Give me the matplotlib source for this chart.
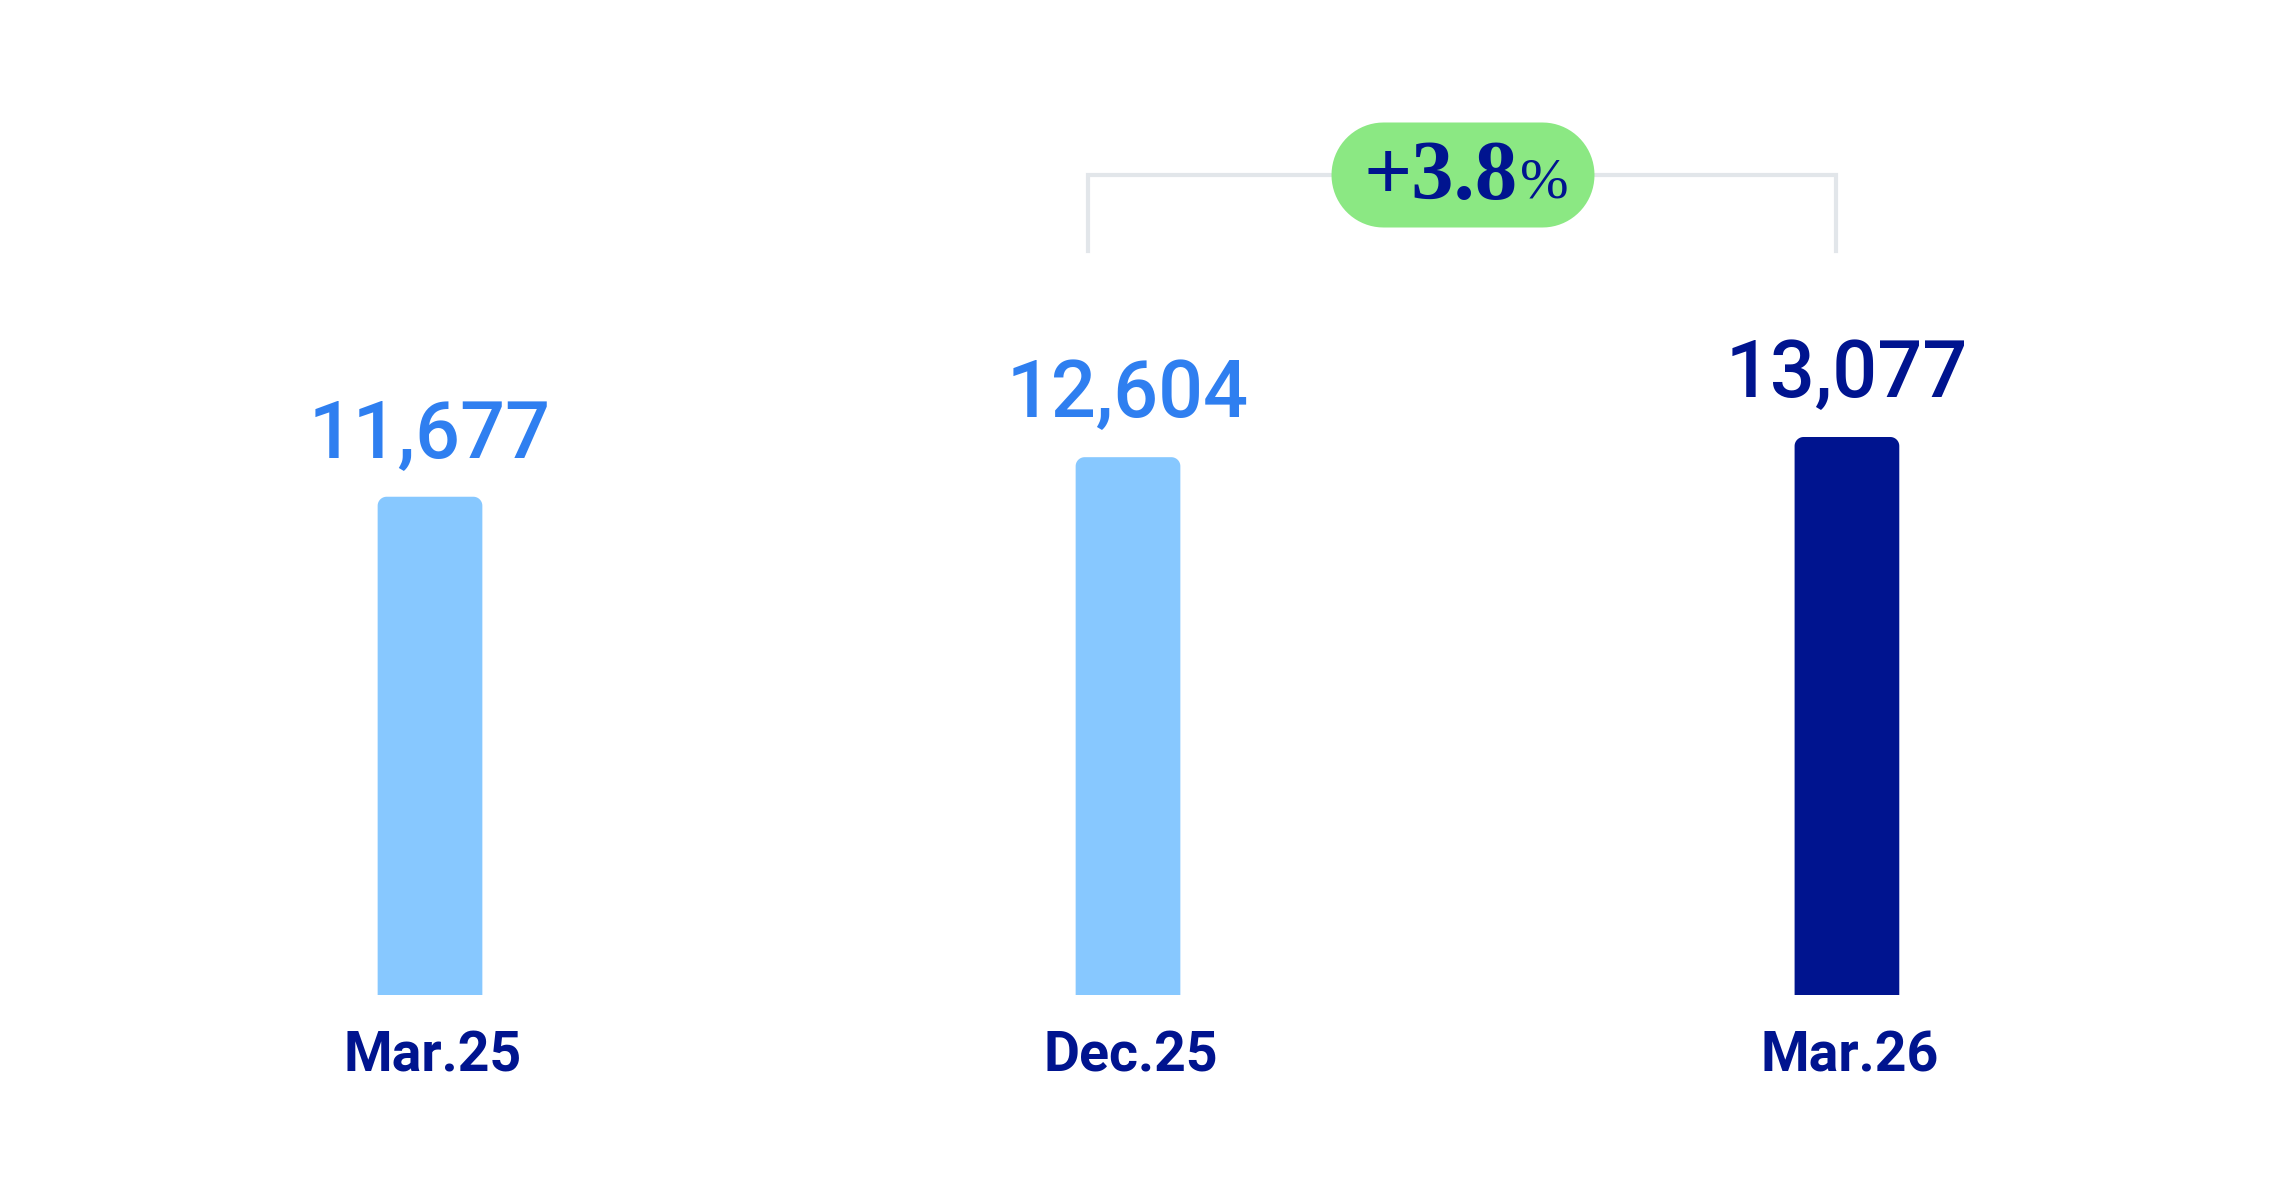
"""Bar chart: three period values with a growth badge between the last two."""
import matplotlib

matplotlib.use("Agg")
import matplotlib.pyplot as plt
import numpy as np
from matplotlib.patches import Polygon

periods = ["Mar.25", "Dec.25", "Mar.26"]
values = [11677, 12604, 13077]
value_labels = ["11,677", "12,604", "13,077"]

LIGHT, DARK = "#87c8ff", "#00148f"
LABEL_LIGHT = "#2f7ff0"
BADGE, BRACKET = "#8be883", "#e2e6ea"

bar_colors = [LIGHT, LIGHT, DARK]
text_colors = [LABEL_LIGHT, LABEL_LIGHT, DARK]

W, H, DPI = 2292, 1188, 100
fig = plt.figure(figsize=(W / DPI, H / DPI), dpi=DPI)
ax = fig.add_axes([0, 0, 1, 1])
ax.set_axis_off()

# layout: pixel anchors converted to data limits
x0_px, unit_px = 430, 698
base_px = 193
yscale = values[-1] / 558  # data per pixel
ax.set_xlim(-x0_px / unit_px, (W - x0_px) / unit_px)
ax.set_ylim(-base_px * yscale, (H - base_px) * yscale)


def rounded(x, y, w, h, rx, ry, bottom=True):
    """Polygon for a box with elliptical corners (top only if bottom=False)."""
    t = np.linspace(0, np.pi / 2, 20)
    corners = [(x + w - rx, y + h - ry, 0.0), (x + rx, y + h - ry, 0.5 * np.pi)]
    if bottom:
        corners += [(x + rx, y + ry, np.pi), (x + w - rx, y + ry, 1.5 * np.pi)]
    pts = []
    for cx_, cy_, a in corners:
        pts += list(zip(cx_ + rx * np.cos(t + a), cy_ + ry * np.sin(t + a)))
    if not bottom:
        pts += [(x, y), (x + w, y)]
    return np.array(pts)


xpos = [0, 1, 2.03]
bw = 0.15
bars = ax.bar(xpos, values, width=bw, color=bar_colors)

r_x = 9 / unit_px
r_y = 9 * yscale
for b, c in zip(bars, bar_colors):
    b.set_visible(False)
    ax.add_patch(Polygon(rounded(b.get_x(), 0, b.get_width(), b.get_height(), r_x, r_y,
                                 bottom=False), closed=True, fc=c, ec="none"))

for x, v, lab, c in zip(xpos, values, value_labels, text_colors):
    ax.text(x, v + 62 * yscale, lab, ha="center", va="center", fontsize=57,
            family="Roboto", fontweight="medium", color=c)

for x, p in zip(xpos, periods):
    ax.text(x + 0.004, -62 * yscale, p, ha="center", va="center", fontsize=40,
            family="Roboto", fontweight="bold", color=DARK)

# growth bracket + badge between last two bars
growth = (values[2] / values[1] - 1) * 100
bx1, bx2 = xpos[1] - 0.057, xpos[2] - 0.015
by_top = (H - base_px - 175) * yscale
by_bot = (H - base_px - 251) * yscale
ax.plot([bx1, bx1, bx2, bx2], [by_bot, by_top, by_top, by_bot], color=BRACKET,
        lw=3, solid_joinstyle="miter", zorder=1)

cx = (1463 - x0_px) / unit_px
bw_badge, bh_badge = 263 / unit_px, 105 * yscale
ax.add_patch(Polygon(rounded(cx - bw_badge / 2, by_top - bh_badge / 2, bw_badge, bh_badge,
                             52 / unit_px, 52.5 * yscale), closed=True, fc=BADGE, ec="none",
                     zorder=2))
ax.text(cx + 0.078, by_top - 4 * yscale, f"+{growth:.1f}", ha="right", va="center",
        fontsize=61, family="Liberation Serif", fontweight="bold", color=DARK, zorder=3)
ax.text(cx + 0.081, by_top - 8 * yscale, "%", ha="left", va="center", fontsize=42,
        family="Liberation Serif", color=DARK, zorder=3)

fig.savefig("out.png", dpi=DPI, facecolor="white")
